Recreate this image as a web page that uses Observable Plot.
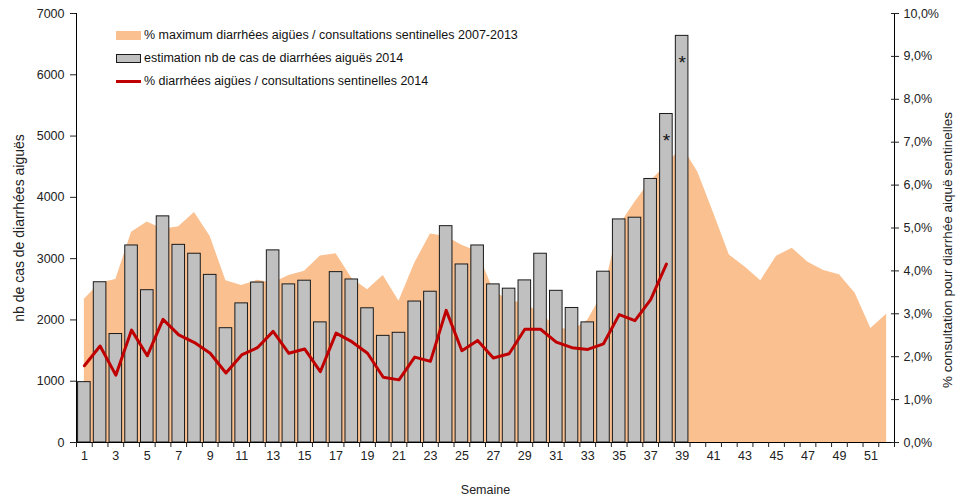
<!DOCTYPE html>
<html><head><meta charset="utf-8">
<script src="https://cdn.jsdelivr.net/npm/d3@7"></script>
<script src="https://cdn.jsdelivr.net/npm/@observablehq/plot@0.6"></script>
<style>
body{margin:0;background:#fff;font-family:"Liberation Sans",Arial,sans-serif;}
#wrap{position:relative;width:956px;height:497px;overflow:hidden;}
.row{position:absolute;left:116px;height:16px;display:flex;align-items:center;font-size:12.5px;color:#111;white-space:nowrap;}
.sw{width:25px;margin-right:3px;box-sizing:border-box;}
.rlabel{position:absolute;left:948px;top:250px;transform:translate(-50%,-50%) rotate(-90deg);font-size:13.5px;color:#222;white-space:nowrap;line-height:14px;}
</style></head><body><div id="wrap"></div>
<script>
// Categories (weeks) and tick labels
const weeks = [1,2,3,4,5,6,7,8,9,10,11,12,13,14,15,16,17,18,19,20,21,22,23,24,25,26,27,28,29,30,31,32,33,34,35,36,37,38,39,40,41,42,43,44,45,46,47,48,49,50,51,52];
const weekLabels = [1,3,5,7,9,11,13,15,17,19,21,23,25,27,29,31,33,35,37,39,41,43,45,47,49,51];
const leftTicks = [0,1000,2000,3000,4000,5000,6000,7000];
const rightTicksPct = [0,1,2,3,4,5,6,7,8,9,10];
// Series
const cases2014 = [985,2615,1770,3215,2485,3690,3225,3080,2735,1865,2270,2610,3135,2580,2640,1960,2780,2660,2190,1740,1790,2300,2460,3530,2905,3215,2580,2510,2645,3080,2475,2195,1960,2787,3640,3668,4300,5360,6635];
const pct2014 = [1.79,2.25,1.57,2.62,2.02,2.87,2.51,2.33,2.08,1.62,2.04,2.21,2.59,2.08,2.18,1.65,2.55,2.35,2.08,1.52,1.46,1.99,1.89,3.08,2.14,2.38,1.97,2.07,2.64,2.64,2.34,2.21,2.17,2.30,2.98,2.84,3.33,4.16];
const maxPct0713 = [3.34,3.72,3.80,4.90,5.14,4.97,5.03,5.36,4.80,3.77,3.66,3.78,3.72,3.89,3.99,4.35,4.40,3.83,3.56,3.89,3.29,4.18,4.86,4.80,4.60,4.45,3.55,3.30,3.25,3.00,2.70,2.60,2.85,3.50,5.05,5.60,6.10,6.45,6.90,6.30,5.35,4.37,4.09,3.77,4.34,4.53,4.20,4.01,3.91,3.48,2.66,2.99];
const starWeeks = [38,39];

const K = 700; // 1 % on the right axis = 700 cases on the left axis
const areaData = weeks.map((w,i)=>({week:w, pct:maxPct0713[i]}));
const barData = cases2014.map((c,i)=>({week:weeks[i], cases:c}));
const lineData = pct2014.map((p,i)=>({week:weeks[i], pct:p}));
const starData = starWeeks.map(w=>({week:w, cases:cases2014[w-1]}));
const bounds = [0, ...weeks].map(w=>w+0.5);
const fmtPct = v => (v/K).toFixed(1).replace(".", ",") + "%";

const chart = Plot.plot({
  width:956, height:497,
  marginLeft:76, marginRight:62, marginTop:13, marginBottom:55,
  style:{fontFamily:"Liberation Sans, Arial, sans-serif", fontSize:"12.5px", color:"#222", background:"white"},
  x:{domain:[0.5,52.5]},
  y:{domain:[0,7000]},
  marks:[
    Plot.areaY(areaData,{x:"week", y:d=>d.pct*K, fill:"#FAC090"}),
    Plot.rect(barData,{x1:d=>d.week-0.4, x2:d=>d.week+0.4, y1:()=>0, y2:"cases", fill:"#C0C0C0", stroke:"#1a1a1a", strokeWidth:1}),
    Plot.lineY(lineData,{x:"week", y:d=>d.pct*K, stroke:"#C00000", strokeWidth:3}),
    Plot.text(starData,{x:"week", y:"cases", text:()=>"*", dy:27, fontSize:19, fill:"#111"}),
    Plot.ruleX([0.5],{stroke:"#000"}),
    Plot.ruleX([52.5],{stroke:"#000"}),
    Plot.ruleY([0],{stroke:"#000"}),
    Plot.axisY({ticks:leftTicks, tickSize:6, tickPadding:6, tickFormat:d=>String(d), label:null}),
    Plot.axisY({ticks:[], label:"nb de cas de diarrhées aiguës", labelAnchor:"center", labelOffset:62, labelArrow:"none", fontSize:14}),
    Plot.axisY({anchor:"right", ticks:rightTicksPct.map(p=>p*K), tickSize:4, tickPadding:5, tickFormat:fmtPct, label:null}),
    Plot.axisY({anchor:"right", ticks:rightTicksPct.map(p=>p*K), tickSize:-4, tickFormat:()=>"", label:null}),
    Plot.axisX({ticks:bounds, tickSize:5, tickFormat:()=>"", label:null}),
    Plot.axisX({ticks:weekLabels, tickSize:0, tickPadding:9, tickFormat:d=>String(d), label:"Semaine", labelAnchor:"center", labelOffset:51, labelArrow:"none"})
  ]
});
const wrap = document.getElementById("wrap");
wrap.appendChild(chart);

const legendItems = [
  {top:27, text:"% maximum diarrhées aigües / consultations sentinelles 2007-2013", sw:"height:9px;background:#FAC090;"},
  {top:50, text:"estimation nb de cas de diarrhées aiguës 2014", sw:"height:9px;background:#C0C0C0;border:1.5px solid #1a1a1a;"},
  {top:73, text:"% diarrhées aigües / consultations sentinelles 2014", sw:"height:3px;background:#C00000;"}
];
for (const it of legendItems){
  const r = document.createElement("div");
  r.className = "row"; r.style.top = it.top + "px";
  const s = document.createElement("div"); s.className = "sw"; s.style.cssText = it.sw;
  const t = document.createElement("span"); t.textContent = it.text;
  r.appendChild(s); r.appendChild(t); wrap.appendChild(r);
}
const rl = document.createElement("div");
rl.className = "rlabel";
rl.textContent = "% consultation pour diarrhée aiquë sentinelles";
wrap.appendChild(rl);
</script></body></html>
